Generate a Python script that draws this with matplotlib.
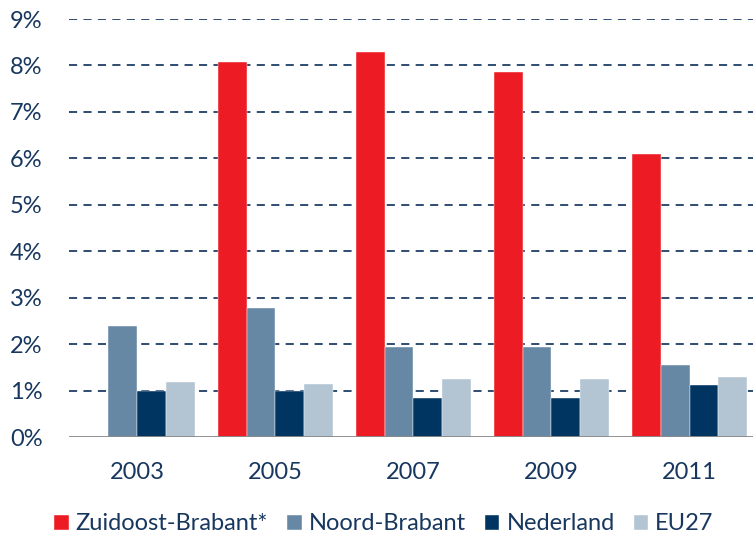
import matplotlib
matplotlib.use("Agg")
import matplotlib.pyplot as plt
import numpy as np

years = ["2003", "2005", "2007", "2009", "2011"]
series_names = ["Zuidoost-Brabant*", "Noord-Brabant", "Nederland", "EU27"]
zuidoost = [np.nan, 8.08, 8.30, 7.86, 6.10]
noord = [2.38, 2.77, 1.93, 1.93, 1.56]
nederland = [1.00, 1.00, 0.84, 0.84, 1.13]
eu27 = [1.19, 1.15, 1.25, 1.25, 1.29]
yticks = [0, 1, 2, 3, 4, 5, 6, 7, 8, 9]

colors = ["#ED1C24", "#6688A5", "#003562", "#B3C4D3"]
text_color = "#17375E"

plt.rcParams['font.family'] = ['Lato', 'DejaVu Sans']

fig = plt.figure(figsize=(7.53, 5.40), dpi=100)
ax = fig.add_axes([69/753, 1 - 437/540, (753-69)/753, (437-19)/540])

x = np.arange(len(years))
w = 0.209
data = [zuidoost, noord, nederland, eu27]
for i, (vals, name, c) in enumerate(zip(data, series_names, colors)):
    ax.bar(x + (i - 1.5) * w, vals, width=w, color=c, label=name, zorder=3,
           edgecolor='white', linewidth=0.3)

ax.set_ylim(0, 9)
ax.set_xlim(-0.495, 4.46)
ax.set_yticks(yticks)
ax.set_yticklabels([f"{v}%" for v in yticks])
ax.set_xticks(x)
ax.set_xticklabels(years)
ax.tick_params(axis='both', length=0, labelsize=17, colors=text_color)
ax.tick_params(axis='y', pad=19)
ax.tick_params(axis='x', pad=18)

for v in yticks[1:]:
    ax.axhline(v, color="#1F3F66", linestyle=(0, (4.5, 3.5)), linewidth=1.3, zorder=1)
ax.axhline(0, color="#888888", linewidth=2, zorder=4)

for s in ax.spines.values():
    s.set_visible(False)

leg = fig.legend(loc='center left', bbox_to_anchor=(54/753, 1 - 524/540), ncol=4, frameon=False,
                 fontsize=17, handlelength=0.62, handleheight=0.62, handletextpad=0.3,
                 columnspacing=0.8, borderpad=0, borderaxespad=0)
for t in leg.get_texts():
    t.set_color(text_color)

fig.savefig("out.png", dpi=100)
